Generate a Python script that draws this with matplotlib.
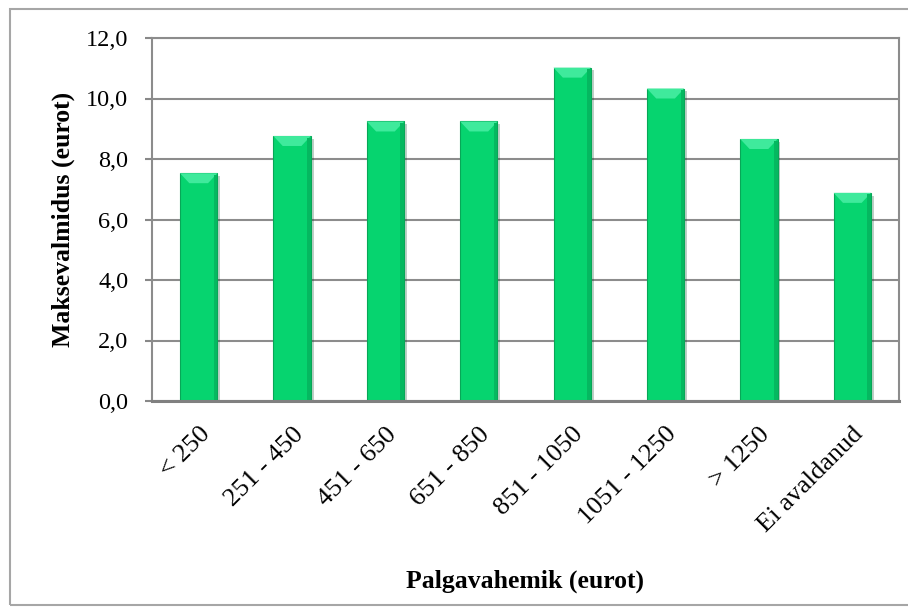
import numpy as np
import matplotlib
matplotlib.use('Agg')
import matplotlib.pyplot as plt
from matplotlib.patches import Rectangle, Polygon
from matplotlib import patheffects
from matplotlib.transforms import ScaledTranslation

# Andmed
kategooriad = ['< 250', '251 - 450', '451 - 650', '651 - 850', '851 - 1050',
               '1051 - 1250', '> 1250', 'Ei avaldanud']
vaartused = [7.53, 8.76, 9.24, 9.24, 11.02, 10.33, 8.66, 6.88]
y_tikid = [0, 2, 4, 6, 8, 10, 12]

plt.rcParams['font.family'] = ['Liberation Serif', 'DejaVu Serif']

fig = plt.figure(figsize=(9.08, 6.09), dpi=100)
ax = fig.add_axes([152/908, 1-401/609, 747/908, 363/609])

x = np.arange(len(kategooriad))
laius = 0.4
varv = '#06D46F'
bars = ax.bar(x, vaartused, width=laius, color=varv, edgecolor='#07A757',
              linewidth=0.8, zorder=3)
for b in bars:
    b.set_path_effects([patheffects.SimplePatchShadow(offset=(2, -2), alpha=0.25),
                        patheffects.Normal()])
    # ülemine läige (kaldserv)
    x0, w, h = b.get_x(), b.get_width(), b.get_height()
    d = 0.33
    ax.add_patch(Polygon([(x0, h), (x0 + w, h), (x0 + w*0.75, h - d), (x0 + w*0.25, h - d)],
                         closed=True, facecolor='#3FEA9C', edgecolor='none', zorder=4))
    # tumedam parem serv
    ax.add_patch(Rectangle((x0 + w*0.9, 0), w*0.1, h - 0.05, facecolor='#05B860',
                           edgecolor='none', zorder=4))

ax.set_xlim(-0.5, len(kategooriad) - 0.5)
ax.set_ylim(0, 12)
ax.set_yticks(y_tikid)
ax.set_yticklabels([f'{v:.1f}'.replace('.', ',') for v in y_tikid], fontsize=17.5)
ax.set_xticks(x)
ax.set_xticklabels(kategooriad, fontsize=19, rotation=45, ha='right', va='top',
                   rotation_mode='anchor')
nihe = ScaledTranslation(-0.08, 0, fig.dpi_scale_trans)
for lbl in ax.get_xticklabels():
    lbl.set_transform(lbl.get_transform() + nihe)
ax.tick_params(axis='x', length=0, pad=16)
ax.tick_params(axis='y', length=5, width=1.5, color='#888888', pad=12)

ax.grid(axis='y', color='#8C8C8C', linewidth=1.5, zorder=0)
for s in ['top', 'right', 'left']:
    ax.spines[s].set_color('#8C8C8C')
    ax.spines[s].set_linewidth(1.5)
ax.spines['bottom'].set_color('#808080')
ax.spines['bottom'].set_linewidth(2.2)
ax.spines['bottom'].set_zorder(5)

ax.set_ylabel('Maksevalmidus (eurot)', fontsize=18.5, fontweight='bold', labelpad=8)
ax.set_xlabel('Palgavahemik (eurot)', fontsize=18.5, fontweight='bold')
ax.xaxis.set_label_coords(0.5, -0.465)

# välimine raam
fig.add_artist(Rectangle((10/908, 4/609), 1.0, 596/609, transform=fig.transFigure,
                         fill=False, edgecolor='#A6A6A6', linewidth=1.5))

plt.savefig('out.png', dpi=100)
